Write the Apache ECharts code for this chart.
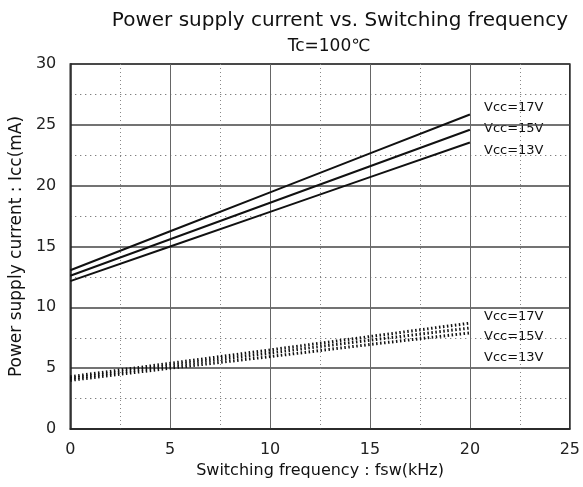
<!DOCTYPE html>
<html><head><meta charset="utf-8">
<script src="https://cdn.jsdelivr.net/npm/echarts@6/dist/echarts.min.js"></script>
<style>html,body{margin:0;padding:0;background:#fff}#c{width:583px;height:487px}</style>
</head><body><div id="c"></div>
<script>
var freq = [0, 5, 10, 15, 20];
var solid17 = [13.05, 16.25, 19.45, 22.65, 25.85];
var solid15 = [12.6, 15.6, 18.6, 21.6, 24.6];
var solid13 = [12.15, 15.0, 17.85, 20.7, 23.55];
var dot17 = [4.3, 5.4, 6.5, 7.6, 8.7];
var dot15 = [4.15, 5.2, 6.25, 7.3, 8.3];
var dot13 = [4.0, 5.0, 5.95, 6.95, 7.9];
var labelsSolid = ['Vcc=17V', 'Vcc=15V', 'Vcc=13V'];
var labelsDot = ['Vcc=17V', 'Vcc=15V', 'Vcc=13V'];
var titleText = 'Power supply current vs. Switching frequency';
var subText = 'Tc=100℃';
var xName = 'Switching frequency : fsw(kHz)';
var yName = 'Power supply current : Icc(mA)';

function pts(ys){ return freq.map(function(x,i){ return [x, ys[i]]; }); }
var font = 'DejaVu Sans';
var chart = echarts.init(document.getElementById('c'));
function ser(ys, dotted){
  return {type:'line', data:pts(ys), symbol:'none', silent:true,
    lineStyle: dotted ? {color:'#111', width:3, type:[1.5,2.5]} : {color:'#111', width:2}};
}
var solidLabelY = [109, 130, 152];
var dotLabelY = [318, 338, 359];
var graphics = [];
labelsSolid.forEach(function(t,i){
  graphics.push({type:'text', left:483, top:solidLabelY[i]-8, style:{text:t, font:'13px "'+font+'"', fill:'#111', backgroundColor:'#fff', padding:[0,1]}});
});
labelsDot.forEach(function(t,i){
  graphics.push({type:'text', left:483, top:dotLabelY[i]-8, style:{text:t, font:'13px "'+font+'"', fill:'#111', backgroundColor:'#fff', padding:[0,1]}});
});
chart.setOption({
  animation:false,
  backgroundColor:'#fff',
  title:[{text:titleText, left:335, top:6, textAlign:'center', textStyle:{fontFamily:font, fontWeight:'normal', fontSize:20, color:'#111'}},
         {text:subText, left:324, top:33, textAlign:'center', textStyle:{fontFamily:font, fontWeight:'normal', fontSize:17, color:'#111'}}],
  grid:{left:67, right:11, top:64, bottom:58, show:true, borderColor:'#222', borderWidth:1.5},
  xAxis:{type:'value', min:0, max:25, interval:5,
    name:xName, nameLocation:'middle', nameGap:32, nameTextStyle:{fontFamily:font, fontSize:16, color:'#111'},
    axisLine:{show:true, lineStyle:{color:'#222', width:1.5}}, axisTick:{show:false},
    axisLabel:{fontFamily:font, fontSize:16, color:'#222', margin:13},
    splitLine:{show:true, lineStyle:{color:'#666', width:1}},
    minorTick:{show:false, splitNumber:2},
    minorSplitLine:{show:true, lineStyle:{color:'#888', width:1, type:[1,3]}}},
  yAxis:{type:'value', min:0, max:30, interval:5,
    name:yName, nameLocation:'middle', nameGap:44, nameTextStyle:{fontFamily:font, fontSize:17, color:'#111'},
    axisLine:{show:true, lineStyle:{color:'#222', width:1.5}}, axisTick:{show:false},
    axisLabel:{fontFamily:font, fontSize:16, color:'#222', margin:14},
    splitLine:{show:true, lineStyle:{color:'#444', width:1.5}},
    minorTick:{show:false, splitNumber:2},
    minorSplitLine:{show:true, lineStyle:{color:'#555', width:1, type:[1,4]}}},
  series:[ser(solid17,false), ser(solid15,false), ser(solid13,false), ser(dot17,true), ser(dot15,true), ser(dot13,true)],
  graphic:graphics
});
</script></body></html>
